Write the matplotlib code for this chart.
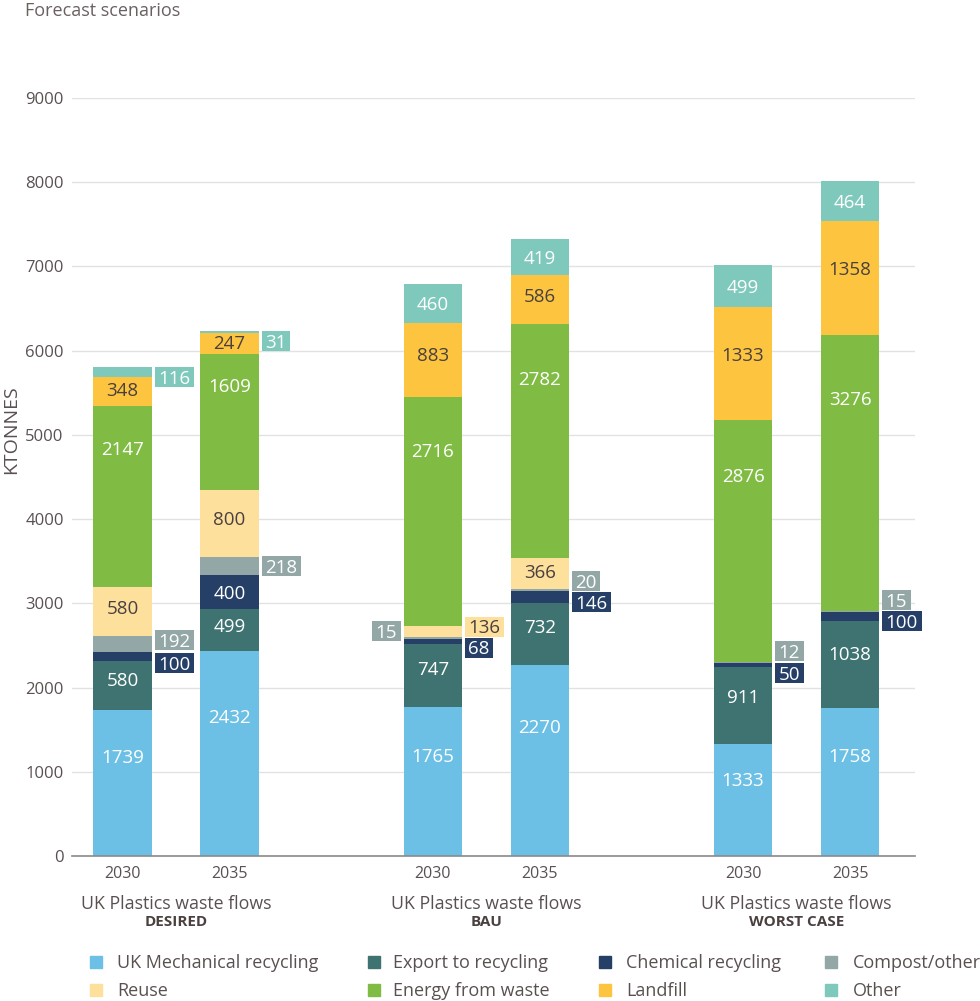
import matplotlib
matplotlib.use("Agg")
import matplotlib.pyplot as plt
from matplotlib.patches import Rectangle
import numpy as np

plt.rcParams['font.family'] = ['Open Sans', 'DejaVu Sans']

# ---------------- data ----------------
scenarios = ['DESIRED', 'BAU', 'WORST CASE']
years = ['2030', '2035']
series = ['UK Mechanical recycling', 'Export to recycling', 'Chemical recycling',
          'Compost/other', 'Reuse', 'Energy from waste', 'Landfill', 'Other']
# bar order: DESIRED 2030, DESIRED 2035, BAU 2030, BAU 2035, WORST 2030, WORST 2035
mech = [1739, 2432, 1765, 2270, 1333, 1758]
export = [580, 499, 747, 732, 911, 1038]
chem = [100, 400, 68, 146, 50, 100]
compost = [192, 218, 15, 20, 12, 15]
reuse = [580, 800, 136, 366, 0, 0]
efw = [2147, 1609, 2716, 2782, 2876, 3276]
landfill = [348, 247, 883, 586, 1333, 1358]
other = [116, 31, 460, 419, 499, 464]
yticks = [0, 1000, 2000, 3000, 4000, 5000, 6000, 7000, 8000, 9000]

values = [mech, export, chem, compost, reuse, efw, landfill, other]

# ---------------- style / layout ----------------
colors = ['#6CC0E5', '#3F7372', '#253F66', '#93A7A6',
          '#FDE09C', '#80BC43', '#FDC53F', '#7EC8BC']
text_light = [True, True, True, True, False, True, False, True]
label_frac = [0.68, 0.62, 0.5, 0.5, 0.58, 0.77, 0.58, 0.5]
DARK = '#4a4040'
GREY = '#5a5050'
FS = 13.5

# outside labels: (bar, series) -> (side, vertical nudge in px, + = down)
outside = {
    (0, 7): ('r', 5), (0, 3): ('r', -4), (0, 2): ('r', 7),
    (1, 7): ('r', 9), (1, 3): ('r', 0),
    (2, 3): ('l', -7), (2, 4): ('r', -5), (2, 2): ('r', 6),
    (3, 3): ('r', -9), (3, 2): ('r', 5),
    (4, 3): ('r', -11), (4, 2): ('r', 8),
    (5, 3): ('r', -11), (5, 2): ('r', 5),
}

W, H, DPI = 980, 1001, 100
fig = plt.figure(figsize=(W / DPI, H / DPI), dpi=DPI)
ax_l, ax_r, ax_t, ax_b = 72, 915, 98, 856
ax = fig.add_axes([ax_l / W, (H - ax_b) / H, (ax_r - ax_l) / W, (ax_b - ax_t) / H])

unit_px = 107.0
pos = np.array([g * 2.9 + k for g in range(len(scenarios)) for k in range(len(years))])
bw = 0.545
ax.set_xlim((ax_l - 122.5) / unit_px, (ax_r - 122.5) / unit_px)
ax.set_ylim(0, 9000)
upp = 9000 / (ax_b - ax_t)   # data units per pixel

bottom = np.zeros(len(pos))
for i, vals in enumerate(values):
    v = np.array(vals, dtype=float)
    ax.bar(pos, v, bottom=bottom, width=bw, color=colors[i], zorder=2, linewidth=0)
    bottom += v

# labels
cap_pt = 0.357 * FS
bottom = np.zeros(len(pos))
boxed = []
for i, vals in enumerate(values):
    for b, val in enumerate(vals):
        if val <= 0:
            continue
        tc = 'white' if text_light[i] else DARK
        key = (b, i)
        if key in outside:
            side, dy = outside[key]
            y = bottom[b] + val / 2 - dy * upp
            if side == 'r':
                x = pos[b] + bw / 2
                off = 6.5 * 72 / DPI
                ha = 'left'
            else:
                x = pos[b] - bw / 2
                off = -6.5 * 72 / DPI
                ha = 'right'
            t = ax.annotate(str(val), xy=(x, y), xytext=(off, -cap_pt),
                            textcoords='offset points', ha=ha, va='baseline',
                            color=tc, fontsize=FS, zorder=6, annotation_clip=False)
            boxed.append((t, x, y, colors[i]))
        else:
            y = bottom[b] + val * label_frac[i]
            ax.annotate(str(val), xy=(pos[b], y), xytext=(0, -cap_pt),
                        textcoords='offset points', ha='center', va='baseline',
                        color=tc, fontsize=FS, zorder=6)
    bottom += np.array(vals, dtype=float)

# axes styling
ax.set_yticks(yticks)
ax.set_yticklabels([str(t) for t in yticks], fontsize=12, color=GREY)
ax.tick_params(axis='y', length=0, pad=6)
ax.set_xticks(pos)
ax.set_xticklabels([y for _ in scenarios for y in years], fontsize=11.5, color=GREY)
ax.tick_params(axis='x', length=0, pad=7)
ax.grid(axis='y', color='#e2e2e2', linewidth=1, zorder=0)
ax.set_axisbelow(True)
for s in ['top', 'right', 'left']:
    ax.spines[s].set_visible(False)
ax.spines['bottom'].set_color('#8a8a8a')
ax.spines['bottom'].set_linewidth(1.2)
ax.spines['bottom'].set_zorder(3)

# group titles
xt = ax.get_xaxis_transform()
axh = ax_b - ax_t
for g, name in enumerate(scenarios):
    cx = (pos[2 * g] + pos[2 * g + 1]) / 2
    ax.text(cx, -(909 - ax_b) / axh, 'UK Plastics waste flows', transform=xt,
            ha='center', va='baseline', fontsize=12.8, color=GREY)
    ax.text(cx, -(926.5 - ax_b) / axh, name, transform=xt, ha='center',
            va='baseline', fontsize=11, fontweight='bold', color=DARK)

fig.text(25 / W, 1 - 16 / H, 'Forecast scenarios', ha='left', va='baseline',
         fontsize=13, color='#6a6060')
fig.text(11 / W, 1 - 430 / H, 'KTONNES', rotation=90, ha='center', va='center',
         fontsize=14, color=GREY)

# legend (manual)
leg_order = [[0, 1, 2, 3], [4, 5, 6, 7]]
sq_x = [96, 374, 605, 831]
tx_x = [117, 393, 626, 853]
row_y = [962, 990]
for r, row in enumerate(leg_order):
    for c, si in enumerate(row):
        sz = 12
        fig.patches.append(Rectangle(((sq_x[c] - sz / 2) / W, 1 - (row_y[r] + sz / 2) / H),
                                     sz / W, sz / H, transform=fig.transFigure,
                                     color=colors[si], figure=fig))
        fig.text(tx_x[c] / W, 1 - (row_y[r] + 6.5) / H, series[si], ha='left',
                 va='baseline', fontsize=13, color=GREY)

# boxes behind outside labels
fig.canvas.draw()
renderer = fig.canvas.get_renderer()
inv = ax.transData.inverted()
for t, x, y, col in boxed:
    bb = t.get_window_extent(renderer)
    yc = ax.transData.transform((x, y))[1]
    x0, y0 = inv.transform((bb.x0 - 3.5, yc - 10))
    x1, y1 = inv.transform((bb.x1 + 3.5, yc + 10))
    ax.add_patch(Rectangle((x0, y0), x1 - x0, y1 - y0, color=col, zorder=5,
                           clip_on=False, linewidth=0))

fig.savefig('out.png', dpi=DPI)
